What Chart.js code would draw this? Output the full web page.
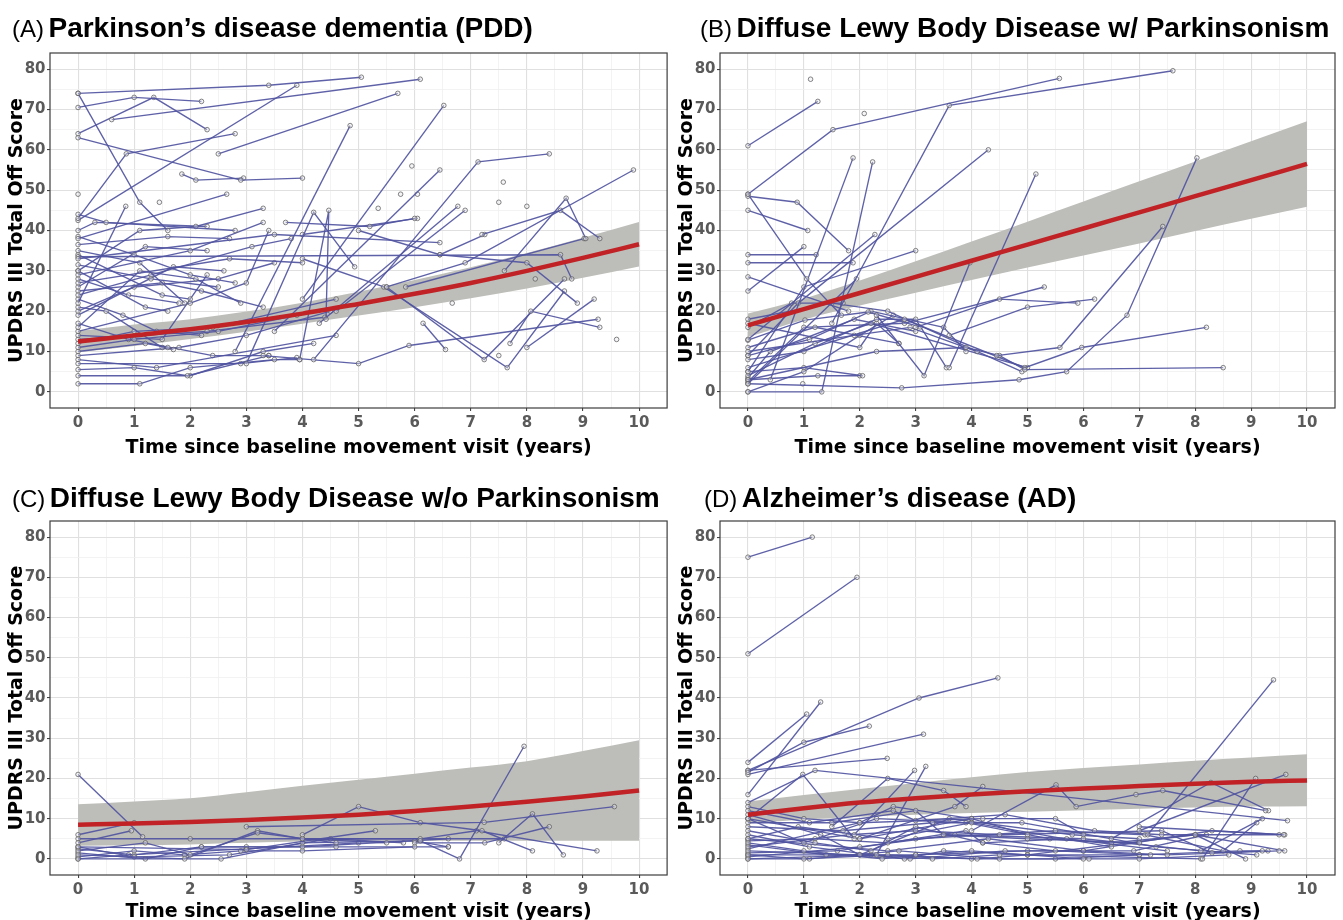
<!DOCTYPE html>
<html><head><meta charset="utf-8">
<script src="https://cdn.jsdelivr.net/npm/chart.js@4.4.1/dist/chart.umd.min.js"></script>
<style>
html,body{margin:0;padding:0;background:#fff;overflow:hidden;width:1343px;height:920px;}
.panel{position:absolute;}
.panel canvas{display:block;}
.ttl{position:absolute;white-space:nowrap;font-family:"Liberation Sans",Arial,sans-serif;line-height:32px;color:#000;z-index:2;}
.ttl .lab{font-size:24px;font-weight:normal;}
.ttl .main{font-size:28px;font-weight:bold;}
</style></head>
<body>
<div class="panel" style="left:0;top:0"><canvas id="cA" width="672" height="462"></canvas></div>
<div class="panel" style="left:672px;top:0"><canvas id="cB" width="671" height="462"></canvas></div>
<div class="panel" style="left:0;top:462px"><canvas id="cC" width="672" height="466"></canvas></div>
<div class="panel" style="left:672px;top:462px"><canvas id="cD" width="671" height="466"></canvas></div>
<div class="ttl" style="left:12px;top:12px"><span class="lab">(A)</span> <span class="main">Parkinson’s disease dementia (PDD)</span></div>
<div class="ttl" style="left:700px;top:12px"><span class="lab">(B)</span> <span class="main">Diffuse Lewy Body Disease w/ Parkinsonism</span></div>
<div class="ttl" style="left:12px;top:482px"><span class="lab">(C)</span> <span class="main">Diffuse Lewy Body Disease w/o Parkinsonism</span></div>
<div class="ttl" style="left:704px;top:482px"><span class="lab">(D)</span> <span class="main">Alzheimer’s disease (AD)</span></div>
<script>
// ---------- axis ticks ----------
const xTickValues = [0,0.5,1,1.5,2,2.5,3,3.5,4,4.5,5,5.5,6,6.5,7,7.5,8,8.5,9,9.5,10];
const yTickValues = [0,5,10,15,20,25,30,35,40,45,50,55,60,65,70,75,80];
const xTitle = 'Time since baseline movement visit (years)';
const yTitle = 'UPDRS III Total Off Score';

// ---------- fitted trend + confidence band ----------
const fitYears = [0,1,2,3,4,5,6,7,8,9,10];
const pddFit   = [12.5,14.0,15.5,17.3,19.4,21.8,24.3,27.0,30.0,33.2,36.6];
const pddLower = [9.8,11.4,13.1,14.9,16.9,18.9,21.0,23.2,25.6,28.3,31.1];
const pddUpper = [15.1,16.7,18.0,19.9,22.1,24.8,27.7,30.9,34.4,38.2,42.1];
const dlbpFit   = [16.5,20.5,24.5,28.5,32.5,36.5,40.5,44.5,48.5,52.5,56.5];
const dlbpLower = [13.6,17.9,21.4,24.6,27.7,30.8,33.8,36.8,39.9,42.9,45.9];
const dlbpUpper = [19.4,23.1,27.6,32.4,37.3,42.2,47.2,52.2,57.1,62.1,67.1];
const dlbnpFit   = [8.5,8.8,9.2,9.7,10.3,11.0,11.9,13.0,14.2,15.5,17.0];
const dlbnpLower = [3.3,3.4,3.6,4.0,4.3,4.5,4.5,4.5,4.5,4.5,4.5];
const dlbnpUpper = [13.6,14.3,15.1,16.6,18.2,19.7,21.2,22.7,24.3,26.8,29.5];
const adFit   = [11.0,12.6,14.0,15.1,16.0,16.8,17.5,18.1,18.7,19.2,19.5];
const adLower = [8.8,9.8,10.5,11.0,11.4,11.7,12.1,12.5,12.8,13.0,13.1];
const adUpper = [14.3,15.9,17.4,18.9,20.3,21.6,22.6,23.5,24.4,25.2,26.0];

// ---------- individual trajectories: [years, score] ----------
const pddSubjects = [
 [[0,74],[3.4,76],[5.05,78]],
 [[0,70.5],[1.0,73],[2.2,72]],
 [[0.6,67.5],[6.1,77.5]],
 [[0,64],[1.35,73],[2.3,65]],
 [[0,63],[2.9,52.5],[4.0,53]],
 [[0,74],[1.1,47],[1.6,40]],
 [[0,43],[0.86,59],[2.8,64]],
 [[2.5,59],[5.7,74]],
 [[1.85,54],[2.1,52.5],[2.95,53]],
 [[0,42.5],[3.9,76]],
 [[1.45,47]],
 [[0,49]],
 [[0,38],[2.65,49]],
 [[0,44],[0.5,42],[2.8,40]],
 [[0,22],[0.85,46]],
 [[0,30],[1.1,40],[2.1,41],[3.3,45.5]],
 [[0,33],[3.5,39],[6.45,37]],
 [[0,29],[2.0,35],[3.3,42]],
 [[3.7,42],[5.2,41],[6.0,43]],
 [[3.0,7],[4.2,44.5],[4.93,31]],
 [[3.95,8],[4.47,45],[4.42,18]],
 [[2.8,10],[4.85,66]],
 [[4.0,23],[6.52,71]],
 [[3.5,15],[6.45,55]],
 [[4.2,8],[7.13,57],[8.4,59]],
 [[5.95,56]],
 [[5.75,49]],
 [[6.05,49]],
 [[5.35,45.5]],
 [[7.58,52]],
 [[7.5,47]],
 [[8.0,46]],
 [[4.3,17],[6.77,46]],
 [[4.6,20],[6.9,45]],
 [[5.5,26],[6.9,32],[9.9,55]],
 [[7.6,30],[8.7,48],[9.05,38]],
 [[7.2,39],[8.6,45],[9.3,38]],
 [[0,33.5],[8.6,34],[8.8,28]],
 [[6.45,34],[8.0,32],[8.9,22]],
 [[8.0,11],[9.2,23]],
 [[3.3,9],[5.0,7],[5.9,11.5],[9.27,18]],
 [[7.7,12],[8.07,20],[9.3,16]],
 [[6.15,17],[6.55,10.5]],
 [[5.5,26],[7.24,8],[8.67,28]],
 [[4.0,33],[5.45,26],[7.65,6],[8.67,25]],
 [[7.5,9]],
 [[9.6,13]],
 [[8.15,28]],
 [[6.67,22]],
 [[5.0,40],[6.45,34],[7.25,39]],
 [[5.84,26],[9.02,38]],
 [[4.0,39],[6.05,43]],
 [[0,2],[1.1,2],[2.0,6],[3.5,8],[3.95,8]],
 [[0,5.5],[1.0,6],[1.95,4],[3.4,9]],
 [[0,7],[2.9,7],[3.9,8.5]],
 [[0,8],[1.4,6],[4.6,14]],
 [[0,10],[1.2,12],[1.6,11]],
 [[0,11],[1.0,13],[2.5,15],[3.9,19]],
 [[0,13],[2.3,15],[4.4,18.5]],
 [[0,40],[0.3,42],[2.3,41]],
 [[0,38.5],[1.0,34],[2.0,29],[2.8,27]],
 [[0,35],[1.1,32],[1.9,22]],
 [[0,34],[1.5,24],[2.0,23]],
 [[0,31.5],[1.3,28],[2.5,26]],
 [[0,30],[1.2,21],[1.6,20]],
 [[0,28],[0.9,24],[1.8,22]],
 [[0,27],[2.7,33],[4.0,32]],
 [[0,26],[1.2,36],[2.3,35]],
 [[0,24],[1.3,29],[3.1,36],[3.8,38]],
 [[0,21],[0.5,20],[1.5,11],[1.7,10.5]],
 [[0,19],[1.7,31],[2.6,30]],
 [[0,16],[1.1,30],[2.1,28],[2.9,22]],
 [[0,15],[2.0,22],[3.0,27],[3.4,40]],
 [[0,14],[1.5,13],[2.3,29]],
 [[0,12],[1.0,15],[2.4,16],[4.6,23]],
 [[0,9],[1.8,11],[3.0,14],[4.5,20]],
 [[0,25],[1.5,27],[2.2,25],[3.3,21]],
 [[0,36.5],[1.6,38.5],[2.7,38]],
 [[0,23],[0.8,19],[1.4,15],[2.2,14]],
 [[0,20],[1.0,26],[2.5,28],[3.5,32]],
 [[0,17],[0.9,13],[2.4,9],[3.4,9]],
 [[0,4],[2.0,4],[3.3,10],[4.2,12]]
];
const dlbpSubjects = [
 [[0,61],[1.25,72]],
 [[1.12,77.5]],
 [[2.08,69]],
 [[0,49],[1.52,65],[5.57,77.7]],
 [[1.5,17],[3.6,71],[7.6,79.6]],
 [[0,48.5],[0.88,47],[1.8,35]],
 [[0,45],[1.07,40]],
 [[0,49],[1.05,28],[1.67,19]],
 [[0.4,3],[1.88,58]],
 [[0,0],[1.32,0],[2.23,57]],
 [[0,9],[0.9,22],[4.3,60]],
 [[0,25],[1.0,36]],
 [[0,34],[1.22,34]],
 [[0,32],[1.88,32]],
 [[0,28.5],[1.8,20]],
 [[0,13],[2.27,39]],
 [[0,2],[1.94,28]],
 [[0,5],[1.0,26],[3.0,35]],
 [[2.3,19],[3.15,4],[3.97,32]],
 [[3.6,6],[5.15,54]],
 [[3.0,16],[4.5,23],[5.9,22]],
 [[3.6,14],[5.0,21],[6.2,23]],
 [[4.45,9],[5.58,11],[7.42,41]],
 [[0,2],[2.75,1],[4.85,3],[5.7,5],[6.78,19],[8.03,58]],
 [[0,3],[2.3,10],[3.9,11],[4.5,9],[4.95,5.5],[8.5,6]],
 [[0,6],[2.8,18],[4.95,6],[5.97,11],[8.2,16]],
 [[0,16],[0.78,22],[1.7,22]],
 [[0,12.8],[1.02,17.8],[2.15,19.8],[3.08,16.1]],
 [[0,5],[1.0,6],[2.05,4]],
 [[0,9],[1.1,13],[2.2,20],[3.5,16],[3.9,10]],
 [[0,11],[1.2,16],[2.7,12]],
 [[0,8],[1.0,10],[2.3,18],[3.0,18],[3.55,6]],
 [[0,10],[1.9,14],[2.9,16],[4.1,10]],
 [[0,4],[1.2,12],[2.2,17],[5.0,6]],
 [[0,17],[2.0,11],[2.3,17],[2.7,12]],
 [[0,2.5],[1.0,16],[2.8,17],[5.3,26]],
 [[0,18],[1.5,22],[2.5,20],[4.9,5]],
 [[0,3.5],[0.4,10],[1.9,18],[3.0,15]],
 [[0,0],[1.0,5],[2.0,14],[2.6,19]],
 [[0,3],[1.25,4],[2.0,4]],
 [[0.98,2]]
];
const dlbnpSubjects = [
 [[0,21],[1.15,5.5]],
 [[0,6],[1.0,9]],
 [[0,4],[0.95,7]],
 [[3.0,8],[7.24,9.1],[9.56,13]],
 [[7.5,4],[8.1,11.2],[8.65,1]],
 [[4.0,6],[5.0,13],[6.1,9],[7.2,7],[8.1,2]],
 [[6.1,4.5],[6.8,0],[7.95,28]],
 [[4.0,5],[6.1,5],[7.1,7],[9.25,2]],
 [[0,3],[3.0,2.3],[5.3,7]],
 [[6.0,4],[7.25,4],[8.4,8]],
 [[0,5],[2.0,5],[7.6,5]],
 [[0,2],[1.2,4],[2.0,1],[3.2,6.5],[4.6,4]],
 [[0,1],[1.9,0],[3.2,7],[4.0,5],[5.5,4]],
 [[0,0],[2.55,0],[4.0,4],[6.0,4.5],[6.6,3]],
 [[0,1.5],[1.2,0],[2.2,3],[4.0,3],[6.6,5]],
 [[0,0.5],[1.0,2],[1.9,1],[2.9,2],[4.0,2],[6.0,3]],
 [[0,3],[1.0,0.5],[2.7,1],[4.5,5],[5.8,4]],
 [[0,2.5],[1.0,1],[2.2,3],[3.0,3],[4.6,3],[6.6,3]],
 [[0,0],[0.9,1],[3.0,2.5],[5.0,4]]
];
const adSubjects = [
 [[0,75],[1.15,80]],
 [[0,51],[1.95,70]],
 [[0,24],[1.05,36]],
 [[0,16],[1.3,39]],
 [[0,21.5],[1.0,29],[2.17,33]],
 [[0,22],[3.06,40],[4.47,45]],
 [[0,22],[2.49,25]],
 [[0,21],[3.14,31]],
 [[0,14],[1.2,22],[9.65,9.5]],
 [[0,10],[0.98,21],[1.9,5]],
 [[1.9,6],[2.98,22]],
 [[2.3,1],[3.18,23]],
 [[1.5,8],[2.5,20],[3.5,17],[3.9,13]],
 [[2.0,5],[3.7,13],[4.2,18]],
 [[4.0,7],[5.51,18.4],[5.87,13],[6.94,16],[7.42,17],[9.26,12]],
 [[6.5,5],[8.28,19],[9.31,12]],
 [[8.13,0],[9.08,20]],
 [[7.15,6],[9.4,44.5]],
 [[7.0,7],[9.62,21]],
 [[7.0,8],[9.58,6]],
 [[0,13],[1.0,10],[2.0,9],[4.2,10],[5.5,10],[6.0,6]],
 [[0,10],[2.0,5],[4.0,10],[5.0,6]],
 [[0,9],[1.5,9],[3.0,12],[3.5,6],[5.0,5],[7.0,4]],
 [[0,7],[1.2,4],[2.2,2],[3.0,8],[4.2,4],[5.5,2],[7.2,1]],
 [[0,5],[0.9,8],[2.5,5],[4.0,9],[6.5,3]],
 [[0,4],[1.0,2],[2.4,0],[3.0,1],[4.0,2],[6.0,0]],
 [[0,3],[1.8,6],[3.0,7],[4.5,6],[7.4,7],[8.3,1.5],[9.2,2]],
 [[0,2],[2.0,1],[3.3,0],[4.5,1],[7.0,1]],
 [[0,1],[1.0,0],[2.5,1],[4.1,0],[5.0,1],[8.1,0]],
 [[0,0],[1.1,0],[2.7,2],[4.5,0],[6.1,0],[7.0,0],[8.6,1]],
 [[0,4.5],[1.2,5],[2.5,4],[3.9,7],[4.2,4],[5.7,5],[7.5,2]],
 [[0,6],[1.1,3],[2.8,0],[3.5,2],[5.0,1],[8.0,6],[8.9,0]],
 [[0,2.5],[2.0,9],[2.6,13],[4.0,10]],
 [[0,0.5],[2.0,3],[3.7,6],[6.0,5],[8.1,2],[9.2,10]],
 [[0,1.5],[1.6,2],[3.0,5],[5.5,7],[7.1,6],[8.5,2],[9.1,9]],
 [[0,3.5],[1.4,1],[2.9,0],[4.6,2],[6.0,2],[7.5,1],[9.5,2]],
 [[0,0],[2.2,1],[4.0,0],[5.5,0],[7.0,1],[8.8,2],[9.3,2]],
 [[0,8],[1.7,7],[3.3,9],[4.9,9],[7.3,3],[9.1,1]],
 [[0,12],[1.1,9],[2.6,12],[3.0,9.5],[4.6,11],[6.2,7],[7.4,6],[9.5,6]],
 [[0,10],[1.0,4],[2.3,10],[3.9,9],[5.4,5],[6.5,4],[8.0,6],[9.6,2]],
 [[0,11],[1.3,6],[2.0,1],[3.6,10],[5.8,6],[7.0,5]],
 [[0,1],[3.0,1],[5.0,2],[6.9,2],[8.2,6]],
 [[0,5],[2.5,2],[4.3,5],[6.0,2],[8.3,7],[9.6,6]]
];

// ---------- styling ----------
const LINE_COLOR = 'rgba(80,84,160,0.92)';
const RED = '#c02226';
const BAND = '#bdbdb9';
const TICK_FONT = {family:'"DejaVu Sans", Verdana, sans-serif', weight:'bold', size:15};
const TITLE_FONT = {family:'"DejaVu Sans", Verdana, sans-serif', weight:'bold', size:19};

const framePlugin = {
  id:'frame',
  afterDatasetsDraw(chart){
    const {ctx, chartArea:a} = chart;
    ctx.save();
    ctx.strokeStyle = '#3c3c3c';
    ctx.lineWidth = 1.2;
    ctx.strokeRect(a.left, a.top, a.right - a.left, a.bottom - a.top);
    ctx.restore();
  }
};

function toXY(xs, ys){ return xs.map((x,i)=>({x:x, y:ys[i]})); }

function buildDatasets(subjects, fit, lower, upper){
  const ds = [];
  ds.push({data: toXY(fitYears, fit), borderColor: RED, borderWidth: 4.5, pointRadius: 0,
           fill: false, cubicInterpolationMode: 'monotone', order: 0});
  ds.push({data: toXY(fitYears, upper), borderColor: 'rgba(0,0,0,0)', borderWidth: 0, pointRadius: 0,
           fill: false, cubicInterpolationMode: 'monotone', order: 2});
  ds.push({data: toXY(fitYears, lower), borderColor: 'rgba(0,0,0,0)', borderWidth: 0, pointRadius: 0,
           fill: '-1', backgroundColor: BAND, cubicInterpolationMode: 'monotone', order: 2});
  subjects.forEach(s => {
    ds.push({
      data: s.map(p => ({x:p[0], y:p[1]})),
      borderColor: LINE_COLOR, borderWidth: 1.35, tension: 0, fill: false,
      pointRadius: 2.3, pointBorderWidth: 0.9,
      pointBorderColor: 'rgba(95,95,100,0.85)',
      pointBackgroundColor: 'rgba(230,230,230,0.4)',
      order: 1
    });
  });
  return ds;
}

function makeChart(id, subjects, fit, lower, upper, geo){
  const isMajorX = v => Math.abs(v - Math.round(v)) < 1e-9;
  const isMajorY = v => v % 10 === 0;
  return new Chart(document.getElementById(id), {
    type: 'line',
    data: { datasets: buildDatasets(subjects, fit, lower, upper) },
    plugins: [framePlugin],
    options: {
      responsive: false, animation: false, events: [],
      layout: { padding: { top: geo.top, right: geo.right, left: 0, bottom: 0 } },
      plugins: { legend: {display:false}, tooltip: {enabled:false} },
      scales: {
        x: {
          type: 'linear', min: -0.5, max: 10.5,
          afterBuildTicks: s => { s.ticks = xTickValues.map(v => ({value: v})); },
          afterFit: s => { s.height = geo.xh; },
          ticks: { autoSkip: false, maxRotation: 0, minRotation: 0, padding: 3, color: '#5a5a5a', font: TICK_FONT,
                   callback: v => isMajorX(v) ? String(Math.round(v)) : '' },
          grid: { drawTicks: true, tickLength: 3,
                  color: c => isMajorX(c.tick.value) ? '#e0e0e0' : '#f0f0f0',
                  lineWidth: c => isMajorX(c.tick.value) ? 1.1 : 0.8,
                  tickColor: c => isMajorX(c.tick.value) ? '#444' : 'rgba(0,0,0,0)' },
          border: { display: false },
          title: { display: true, text: xTitle, color: '#000', font: TITLE_FONT, padding: {top: 0, bottom: geo.xtb} }
        },
        y: {
          type: 'linear', min: -4, max: 84,
          afterBuildTicks: s => { s.ticks = yTickValues.map(v => ({value: v})); },
          afterFit: s => { s.width = geo.yw; },
          ticks: { padding: 1.5, color: '#5a5a5a', font: TICK_FONT,
                   callback: v => isMajorY(v) ? String(v) : '' },
          grid: { drawTicks: true, tickLength: 3,
                  color: c => isMajorY(c.tick.value) ? '#e0e0e0' : '#f0f0f0',
                  lineWidth: c => isMajorY(c.tick.value) ? 1.1 : 0.8,
                  tickColor: c => isMajorY(c.tick.value) ? '#444' : 'rgba(0,0,0,0)' },
          border: { display: false },
          title: { display: true, text: yTitle, color: '#000', font: TITLE_FONT, padding: {top: geo.ytp, bottom: 0} }
        }
      }
    }
  });
}

makeChart('cA', pddSubjects,   pddFit,   pddLower,   pddUpper,   {top:53, right:4, xh:54, yw:50, xtb:2.6, ytp:6});
makeChart('cB', dlbpSubjects,  dlbpFit,  dlbpLower,  dlbpUpper,  {top:53, right:8, xh:54, yw:48, xtb:2.6, ytp:4});
makeChart('cC', dlbnpSubjects, dlbnpFit, dlbnpLower, dlbnpUpper, {top:59, right:4, xh:53, yw:50, xtb:4.6, ytp:6});
makeChart('cD', adSubjects,    adFit,    adLower,    adUpper,    {top:59, right:8, xh:53, yw:48, xtb:4.6, ytp:4});
</script>
</body></html>
